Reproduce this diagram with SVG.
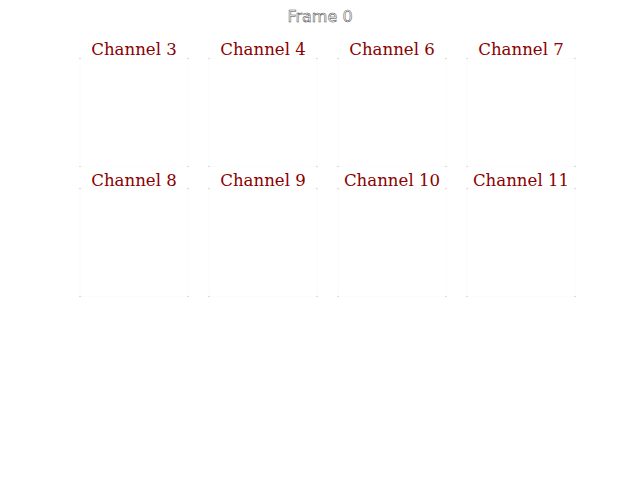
<svg xmlns="http://www.w3.org/2000/svg" width="640" height="480" viewBox="0 0 640 480">
<style>
.ax{fill:#ffffff;stroke:#fcfcfc;stroke-width:1}
.cn{fill:#d0d0d0}
.ch{font-family:"DejaVu Serif",serif;font-size:16.6px;fill:#8b0000;text-anchor:middle}
.ti{font-family:"DejaVu Sans",sans-serif;font-size:16px;fill:#ffffff;stroke:#444444;stroke-width:0.5;text-anchor:middle}
</style>
<defs>
<g id="corners">
<circle cx="0" cy="0" r="0.8" class="cn"/>
<circle cx="108" cy="0" r="0.8" class="cn"/>
<circle cx="0" cy="108" r="0.8" class="cn"/>
<circle cx="108" cy="108" r="0.8" class="cn"/>
</g>
</defs>
<rect width="640" height="480" fill="#ffffff"/>
<text class="ti" x="320" y="22">Frame 0</text>
<g id="connectors"/>
<g id="ch3"><rect class="ax" x="80" y="58.5" width="108" height="108"/><use href="#corners" x="80" y="58.5"/><text class="ch" x="134" y="55">Channel 3</text></g>
<g id="ch4"><rect class="ax" x="209" y="58.5" width="108" height="108"/><use href="#corners" x="209" y="58.5"/><text class="ch" x="263" y="55">Channel 4</text></g>
<g id="ch6"><rect class="ax" x="338" y="58.5" width="108" height="108"/><use href="#corners" x="338" y="58.5"/><text class="ch" x="392" y="55">Channel 6</text></g>
<g id="ch7"><rect class="ax" x="467" y="58.5" width="108" height="108"/><use href="#corners" x="467" y="58.5"/><text class="ch" x="521" y="55">Channel 7</text></g>
<g id="ch8"><rect class="ax" x="80" y="188.5" width="108" height="108"/><use href="#corners" x="80" y="188.5"/><text class="ch" x="134" y="186">Channel 8</text></g>
<g id="ch9"><rect class="ax" x="209" y="188.5" width="108" height="108"/><use href="#corners" x="209" y="188.5"/><text class="ch" x="263" y="186">Channel 9</text></g>
<g id="ch10"><rect class="ax" x="338" y="188.5" width="108" height="108"/><use href="#corners" x="338" y="188.5"/><text class="ch" x="392" y="186">Channel 10</text></g>
<g id="ch11"><rect class="ax" x="467" y="188.5" width="108" height="108"/><use href="#corners" x="467" y="188.5"/><text class="ch" x="521" y="186">Channel 11</text></g>
</svg>
